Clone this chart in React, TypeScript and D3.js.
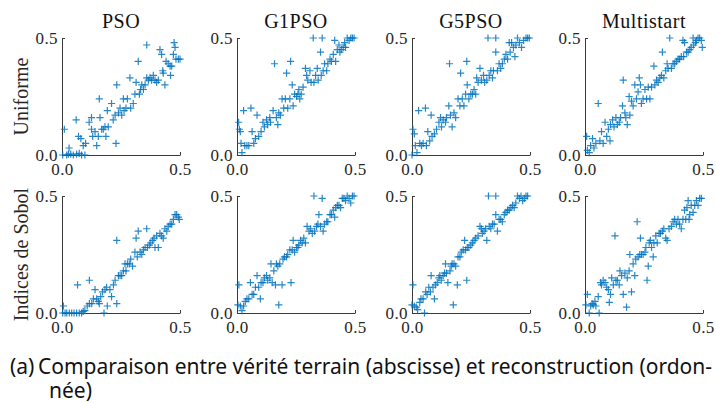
import React, { useEffect, useRef } from 'react';
import * as d3 from 'd3';

type Pt = [number, number];

const methods = ['PSO', 'G1PSO', 'G5PSO', 'Multistart'];
const rowLabels = ['Uniforme', 'Indices de Sobol'];
const tickValues = [0, 0.5];
const captionTag = '(a)';
const captionLine1 = 'Comparaison entre vérité terrain (abscisse) et reconstruction (ordon-';
const captionLine2 = 'née)';

const psoUniforme: Pt[] = [
  [0.01, 0.11], [0.003, 0], [0.02, 0], [0.027, 0.004], [0.037, 0.004], [0.048, 0], [0.062, 0.004],
  [0.073, 0.007], [0.083, 0], [0.097, 0], [0.03, 0.03], [0.06, 0.15], [0.07, 0.08], [0.08, 0.07],
  [0.09, 0.04], [0.1, 0.05], [0.115, 0.14], [0.125, 0.16], [0.125, 0.11], [0.13, 0.08],
  [0.14, 0.1], [0.147, 0.04], [0.154, 0.08], [0.158, 0.24], [0.161, 0.16], [0.168, 0.11],
  [0.175, 0.11], [0.182, 0.12], [0.186, 0.08], [0.192, 0.19], [0.196, 0.12], [0.21, 0.22],
  [0.217, 0.15], [0.225, 0.17], [0.229, 0.05], [0.232, 0.3], [0.239, 0.18], [0.246, 0.2],
  [0.253, 0.17], [0.26, 0.24], [0.263, 0.19], [0.271, 0.2], [0.277, 0.24], [0.288, 0.33],
  [0.291, 0.2], [0.302, 0.22], [0.309, 0.26], [0.314, 0.31], [0.323, 0.4], [0.328, 0.26],
  [0.333, 0.28], [0.338, 0.3], [0.345, 0.28], [0.352, 0.3], [0.359, 0.47], [0.359, 0.33],
  [0.366, 0.32], [0.373, 0.33], [0.38, 0.32], [0.387, 0.34], [0.394, 0.32], [0.401, 0.31],
  [0.408, 0.32], [0.415, 0.45], [0.422, 0.43], [0.427, 0.36], [0.429, 0.35], [0.436, 0.3],
  [0.441, 0.4], [0.45, 0.39], [0.458, 0.38], [0.46, 0.34], [0.465, 0.38], [0.472, 0.43],
  [0.475, 0.48], [0.479, 0.46], [0.483, 0.41], [0.493, 0.41], [0.5, 0.41],
];

const g1Uniforme: Pt[] = [
  [0.007, 0.14], [0.01, 0.11], [0.014, 0.1], [0.021, 0.01], [0.017, 0.05], [0.028, 0.19],
  [0.033, 0.04], [0.042, 0.04], [0.05, 0.04], [0.059, 0.2], [0.064, 0.1], [0.071, 0.05],
  [0.078, 0.07], [0.085, 0.17], [0.092, 0.08], [0.102, 0.1], [0.11, 0.14], [0.116, 0.12],
  [0.125, 0.15], [0.13, 0.13], [0.139, 0.16], [0.142, 0.14], [0.153, 0.19], [0.159, 0.39],
  [0.167, 0.16], [0.173, 0.13], [0.177, 0.18], [0.184, 0.17], [0.191, 0.24], [0.198, 0.2],
  [0.205, 0.24], [0.21, 0.35], [0.215, 0.2], [0.224, 0.24], [0.227, 0.4], [0.234, 0.3],
  [0.238, 0.21], [0.244, 0.26], [0.252, 0.25], [0.258, 0.26], [0.262, 0.28], [0.266, 0.24],
  [0.272, 0.26], [0.28, 0.29], [0.29, 0.37], [0.295, 0.34], [0.3, 0.32], [0.309, 0.36],
  [0.314, 0.31], [0.323, 0.5], [0.326, 0.31], [0.333, 0.34], [0.34, 0.37], [0.344, 0.32],
  [0.354, 0.44], [0.357, 0.34], [0.361, 0.5], [0.365, 0.36], [0.371, 0.39], [0.38, 0.36],
  [0.385, 0.39], [0.394, 0.41], [0.4, 0.4], [0.408, 0.43], [0.414, 0.49], [0.418, 0.4],
  [0.425, 0.45], [0.432, 0.47], [0.436, 0.44], [0.442, 0.45], [0.45, 0.46], [0.456, 0.48],
  [0.46, 0.46], [0.467, 0.5], [0.475, 0.49], [0.482, 0.5], [0.489, 0.5], [0.496, 0.5],
];

const g5Uniforme: Pt[] = [
  [0, 0], [0.004, 0.11], [0.01, 0.09], [0.014, 0.04], [0.021, 0.01], [0.028, 0.19],
  [0.033, 0.05], [0.04, 0.04], [0.047, 0.05], [0.057, 0.2], [0.061, 0.04], [0.067, 0.1],
  [0.075, 0.06], [0.081, 0.17], [0.085, 0.08], [0.095, 0.09], [0.104, 0.11], [0.114, 0.14],
  [0.121, 0.16], [0.125, 0.12], [0.132, 0.15], [0.142, 0.14], [0.146, 0.16], [0.156, 0.21],
  [0.159, 0.39], [0.163, 0.17], [0.17, 0.12], [0.178, 0.18], [0.185, 0.16], [0.195, 0.24],
  [0.203, 0.21], [0.206, 0.35], [0.213, 0.24], [0.22, 0.21], [0.227, 0.26], [0.232, 0.4],
  [0.234, 0.3], [0.241, 0.24], [0.249, 0.26], [0.256, 0.26], [0.263, 0.28], [0.27, 0.26],
  [0.274, 0.33], [0.28, 0.31], [0.288, 0.37], [0.294, 0.32], [0.303, 0.34], [0.308, 0.31],
  [0.317, 0.32], [0.322, 0.5], [0.327, 0.34], [0.334, 0.36], [0.341, 0.33], [0.345, 0.36],
  [0.355, 0.5], [0.355, 0.44], [0.362, 0.36], [0.369, 0.39], [0.376, 0.37], [0.383, 0.39],
  [0.391, 0.41], [0.398, 0.43], [0.405, 0.41], [0.412, 0.48], [0.416, 0.44], [0.422, 0.48],
  [0.43, 0.46], [0.436, 0.42], [0.44, 0.47], [0.447, 0.5], [0.455, 0.48], [0.464, 0.46],
  [0.473, 0.49], [0.483, 0.5], [0.49, 0.5], [0.497, 0.5],
];

const msUniforme: Pt[] = [
  [0.007, 0.08], [0.01, 0.02], [0.018, 0.01], [0.024, 0.04], [0.032, 0.07], [0.038, 0.03],
  [0.046, 0.05], [0.056, 0.22], [0.063, 0.06], [0.07, 0.1], [0.077, 0.05], [0.085, 0.14],
  [0.092, 0.08], [0.099, 0.11], [0.106, 0.06], [0.108, 0.13], [0.117, 0.15], [0.123, 0.12],
  [0.131, 0.16], [0.137, 0.13], [0.145, 0.14], [0.151, 0.16], [0.159, 0.21], [0.162, 0.32],
  [0.169, 0.18], [0.173, 0.16], [0.179, 0.13], [0.187, 0.25], [0.19, 0.17], [0.197, 0.23],
  [0.204, 0.21], [0.211, 0.3], [0.218, 0.24], [0.225, 0.27], [0.23, 0.33], [0.235, 0.3],
  [0.239, 0.22], [0.246, 0.24], [0.254, 0.28], [0.261, 0.24], [0.268, 0.29], [0.275, 0.24],
  [0.282, 0.29], [0.292, 0.38], [0.296, 0.3], [0.303, 0.32], [0.31, 0.31], [0.317, 0.33],
  [0.324, 0.34], [0.328, 0.44], [0.334, 0.33], [0.342, 0.36], [0.348, 0.39], [0.352, 0.37],
  [0.359, 0.5], [0.366, 0.37], [0.373, 0.39], [0.38, 0.39], [0.387, 0.4], [0.394, 0.41],
  [0.401, 0.41], [0.408, 0.42], [0.415, 0.49], [0.418, 0.42], [0.422, 0.48], [0.43, 0.44],
  [0.437, 0.44], [0.444, 0.45], [0.45, 0.46], [0.458, 0.5], [0.46, 0.47], [0.468, 0.48],
  [0.472, 0.49], [0.479, 0.5], [0.486, 0.5], [0.493, 0.49], [0.497, 0.46],
];

const psoSobol: Pt[] = [
  [0.003, 0], [0.013, 0], [0.02, 0], [0.031, 0], [0.041, 0], [0.051, 0], [0.062, 0], [0.073, 0],
  [0.083, 0], [0.09, 0.007], [0.006, 0.03], [0.066, 0.12], [0.097, 0.01], [0.107, 0.03],
  [0.116, 0.04], [0.116, 0.14], [0.126, 0.04], [0.133, 0.06], [0.14, 0.1], [0.147, 0.06],
  [0.154, 0.05], [0.158, 0.04], [0.164, 0.07], [0.172, 0.09], [0.178, 0], [0.182, 0.1],
  [0.189, 0.11], [0.192, 0.03], [0.203, 0.1], [0.21, 0.07], [0.218, 0.12], [0.225, 0.14],
  [0.232, 0.31], [0.232, 0.04], [0.239, 0.16], [0.246, 0.16], [0.253, 0.16], [0.26, 0.18],
  [0.267, 0.21], [0.271, 0.18], [0.277, 0.21], [0.285, 0.21], [0.291, 0.23], [0.299, 0.2],
  [0.309, 0.26], [0.314, 0.32], [0.319, 0.24], [0.323, 0.35], [0.331, 0.26], [0.338, 0.25],
  [0.345, 0.27], [0.352, 0.28], [0.359, 0.36], [0.362, 0.28], [0.37, 0.29], [0.376, 0.3],
  [0.384, 0.31], [0.39, 0.32], [0.394, 0.28], [0.401, 0.33], [0.408, 0.28], [0.415, 0.34],
  [0.422, 0.33], [0.429, 0.32], [0.436, 0.36], [0.444, 0.35], [0.45, 0.37], [0.458, 0.38],
  [0.465, 0.38], [0.472, 0.4], [0.479, 0.42], [0.486, 0.42], [0.493, 0.41], [0.497, 0.4],
];

const g1Sobol: Pt[] = [
  [0.004, 0.035], [0.008, 0.12], [0.014, 0.03], [0.021, 0.01], [0.028, 0.03], [0.035, 0.05],
  [0.042, 0.06], [0.05, 0.06], [0.057, 0.13], [0.064, 0.08], [0.071, 0.08], [0.078, 0.11],
  [0.085, 0.16], [0.092, 0.11], [0.099, 0.06], [0.102, 0.13], [0.11, 0.13], [0.116, 0.15],
  [0.125, 0.16], [0.13, 0.14], [0.139, 0.15], [0.144, 0.21], [0.149, 0.13], [0.156, 0.18],
  [0.163, 0.12], [0.167, 0.21], [0.173, 0.2], [0.177, 0.035], [0.181, 0.21], [0.191, 0.12],
  [0.195, 0.23], [0.201, 0.24], [0.21, 0.24], [0.215, 0.25], [0.224, 0.27], [0.229, 0.13],
  [0.234, 0.27], [0.238, 0.31], [0.244, 0.26], [0.252, 0.28], [0.258, 0.28], [0.262, 0.29],
  [0.269, 0.31], [0.276, 0.3], [0.283, 0.32], [0.29, 0.3], [0.297, 0.37], [0.305, 0.35],
  [0.312, 0.36], [0.319, 0.34], [0.326, 0.5], [0.329, 0.35], [0.337, 0.37], [0.343, 0.38],
  [0.347, 0.42], [0.354, 0.37], [0.361, 0.49], [0.365, 0.35], [0.371, 0.38], [0.38, 0.39],
  [0.385, 0.39], [0.394, 0.42], [0.4, 0.42], [0.408, 0.44], [0.414, 0.41], [0.418, 0.45],
  [0.425, 0.46], [0.432, 0.46], [0.439, 0.45], [0.446, 0.49], [0.453, 0.49], [0.46, 0.48],
  [0.467, 0.5], [0.475, 0.49], [0.482, 0.47], [0.489, 0.5], [0.496, 0.5],
];

const g5Sobol: Pt[] = [
  [0, 0.035], [0.004, 0.12], [0.01, 0.03], [0.018, 0.025], [0.024, 0.014], [0.033, 0.045],
  [0.038, 0.06], [0.047, 0.06], [0.053, 0], [0.058, 0.09], [0.064, 0.08], [0.071, 0.11],
  [0.078, 0.09], [0.081, 0.16], [0.089, 0.11], [0.095, 0.06], [0.099, 0.12], [0.107, 0.13],
  [0.114, 0.15], [0.118, 0.16], [0.124, 0.14], [0.132, 0.16], [0.138, 0.17], [0.142, 0.21],
  [0.146, 0.17], [0.152, 0.13], [0.161, 0.18], [0.166, 0.2], [0.17, 0.21], [0.175, 0.035],
  [0.178, 0.21], [0.185, 0.2], [0.192, 0.12], [0.195, 0.24], [0.203, 0.24], [0.209, 0.26],
  [0.217, 0.27], [0.223, 0.31], [0.227, 0.27], [0.232, 0.14], [0.234, 0.28], [0.241, 0.28],
  [0.249, 0.29], [0.256, 0.3], [0.263, 0.31], [0.27, 0.32], [0.28, 0.33], [0.288, 0.37],
  [0.294, 0.36], [0.298, 0.34], [0.305, 0.35], [0.312, 0.36], [0.317, 0.31], [0.324, 0.5],
  [0.327, 0.37], [0.334, 0.36], [0.341, 0.38], [0.348, 0.38], [0.355, 0.5], [0.355, 0.42],
  [0.362, 0.35], [0.369, 0.4], [0.376, 0.4], [0.383, 0.39], [0.391, 0.42], [0.398, 0.43],
  [0.405, 0.44], [0.412, 0.44], [0.419, 0.45], [0.426, 0.46], [0.433, 0.45], [0.44, 0.47],
  [0.447, 0.5], [0.455, 0.49], [0.462, 0.5], [0.469, 0.48], [0.476, 0.49], [0.483, 0.5],
  [0.49, 0.5],
];

const msSobol: Pt[] = [
  [0.004, 0.035], [0.01, 0.08], [0.018, 0], [0.024, 0.03], [0.03, 0.04], [0.035, 0.035],
  [0.042, 0.05], [0.046, 0.03], [0.056, 0.07], [0.06, 0], [0.066, 0.13], [0.07, 0.12],
  [0.077, 0.14], [0.085, 0.13], [0.092, 0.11], [0.099, 0.1], [0.103, 0.045], [0.108, 0.08],
  [0.113, 0.15], [0.12, 0.12], [0.127, 0.33], [0.131, 0.14], [0.137, 0.14], [0.145, 0.12],
  [0.148, 0.18], [0.155, 0.16], [0.162, 0.08], [0.169, 0.17], [0.176, 0.025], [0.179, 0.15],
  [0.187, 0.18], [0.19, 0.25], [0.197, 0.09], [0.204, 0.21], [0.211, 0.16], [0.215, 0.23],
  [0.221, 0.39], [0.225, 0.24], [0.232, 0.25], [0.235, 0.32], [0.239, 0.25], [0.246, 0.25],
  [0.254, 0.26], [0.258, 0.28], [0.263, 0.14], [0.268, 0.2], [0.272, 0.3], [0.277, 0.31],
  [0.282, 0.28], [0.289, 0.24], [0.292, 0.3], [0.3, 0.33], [0.306, 0.3], [0.314, 0.34],
  [0.32, 0.34], [0.328, 0.35], [0.334, 0.36], [0.342, 0.32], [0.348, 0.31], [0.356, 0.36],
  [0.366, 0.37], [0.373, 0.39], [0.38, 0.4], [0.387, 0.38], [0.394, 0.4], [0.401, 0.38],
  [0.408, 0.36], [0.415, 0.4], [0.422, 0.44], [0.427, 0.4], [0.432, 0.45], [0.437, 0.48],
  [0.441, 0.4], [0.444, 0.42], [0.45, 0.46], [0.458, 0.43], [0.465, 0.46], [0.472, 0.48],
  [0.479, 0.46], [0.486, 0.49], [0.493, 0.49],
];

const panels: Pt[][][] = [
  [psoUniforme, g1Uniforme, g5Uniforme, msUniforme],
  [psoSobol, g1Sobol, g5Sobol, msSobol],
];

const W = 716;
const H = 403;
const BLUE = '#0072BD';
const SERIF = '"Liberation Serif", "Times New Roman", serif';
const SANS = '"Noto Sans", "Open Sans", sans-serif';

const App: React.FC = () => {
  const svgRef = useRef<SVGSVGElement>(null);

  useEffect(() => {
    if (!svgRef.current) return;
    const svg = d3.select(svgRef.current);
    svg.selectAll('*').remove();

    const plotW = 118;
    const plotH = 117;
    const lefts = [62, 237, 412, 585];
    const tops = [38, 196];

    const x = d3.scaleLinear().domain([0, 0.5]).range([0, plotW]);
    const y = d3.scaleLinear().domain([0, 0.5]).range([plotH, 0]);
    const fmt = d3.format('.1f');

    panels.forEach((row, r) => {
      row.forEach((pts, c) => {
        const g = svg.append('g').attr('transform', `translate(${lefts[c]},${tops[r]})`);

        const xAxis = g.append('g')
          .attr('transform', `translate(0,${plotH})`)
          .call(d3.axisBottom(x).tickValues(tickValues).tickFormat(d => fmt(d as number))
            .tickSizeInner(-3).tickSizeOuter(0).tickPadding(8));
        const yAxis = g.append('g')
          .call(d3.axisLeft(y).tickValues(tickValues).tickFormat(d => fmt(d as number))
            .tickSizeInner(-3).tickSizeOuter(0).tickPadding(4));

        [xAxis, yAxis].forEach(a => {
          a.select('.domain').attr('stroke', '#3a3a3a').attr('stroke-width', 1);
          a.selectAll('.tick line').attr('stroke', '#3a3a3a');
          a.selectAll('.tick text')
            .attr('fill', '#262626')
            .style('font-family', SERIF)
            .style('font-size', '17px')
            .style('letter-spacing', '0.4px');
        });

        // plus markers
        g.append('g')
          .selectAll('path')
          .data(pts)
          .join('path')
          .attr('d', d => {
            const px = x(d[0]);
            const py = y(d[1]);
            const s = 3.6;
            return `M${px - s},${py}H${px + s}M${px},${py - s}V${py + s}`;
          })
          .attr('stroke', BLUE)
          .attr('stroke-width', 1.2)
          .attr('stroke-opacity', 0.85)
          .attr('fill', 'none');

        if (r === 0) {
          g.append('text')
            .attr('x', plotW / 2)
            .attr('y', -10)
            .attr('text-anchor', 'middle')
            .style('font-family', SERIF)
            .style('font-size', '20px')
            .style('letter-spacing', '0.5px')
            .attr('fill', '#111')
            .text(methods[c]);
        }
      });

      svg.append('text')
        .attr('transform', `translate(28,${tops[r] + plotH / 2}) rotate(-90)`)
        .attr('text-anchor', 'middle')
        .style('font-family', SERIF)
        .style('font-size', '20px')
        .attr('fill', '#262626')
        .text(rowLabels[r]);
    });

    // caption
    const cap = svg.append('g')
      .style('font-family', SANS)
      .style('font-size', '21px')
      .attr('fill', '#111');
    cap.append('text').attr('x', 10).attr('y', 374).text(captionTag);
    cap.append('text')
      .attr('x', 38).attr('y', 374)
      .attr('textLength', 674)
      .attr('lengthAdjust', 'spacing')
      .text(captionLine1);
    cap.append('text').attr('x', 49).attr('y', 398).text(captionLine2);
  }, []);

  return (
    <svg
      ref={svgRef}
      width={W}
      height={H}
      style={{ position: 'absolute', left: 0, top: 0, background: '#fff' }}
    />
  );
};

export default App;
